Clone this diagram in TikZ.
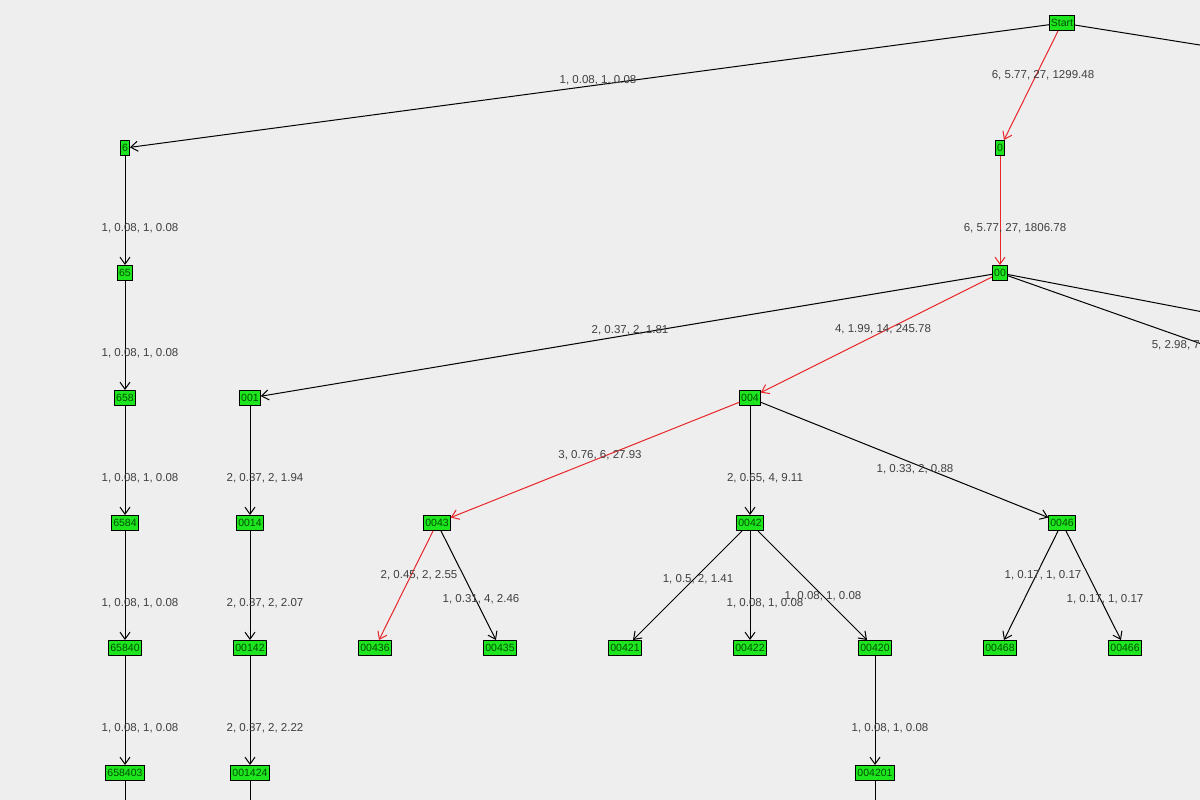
\documentclass[tikz,border=0pt]{standalone}
\usepackage{fontspec}
\setmainfont{Liberation Sans}
\usetikzlibrary{arrows.meta}
\definecolor{nodegreen}{HTML}{1EE61E}
\definecolor{pathred}{HTML}{E8262A}
\definecolor{bggray}{HTML}{EEEEEE}

\begin{document}
\begin{tikzpicture}[x=1pt,y=-1pt,line width=1pt,
    state/.style={draw=black,fill=nodegreen,inner sep=1.5pt,minimum height=15pt,font=\fontsize{10.5}{11}\selectfont,text=black!70!green},
    lbl/.style={font=\fontsize{11.5}{12}\selectfont,text=black!75},
    tr/.style={-{Straight Barb[length=7pt,width=10pt]},black},
    best/.style={-{Straight Barb[length=7pt,width=10pt]},pathred}]
    \fill[bggray] (0,0) rectangle (1200,800);
    \useasboundingbox (0,0) rectangle (1200,800);
    \clip (0,0) rectangle (1200,800);

    \node[state] (Start) at (1062,23) {Start};
    \node[state] (0) at (1000,148) {0};
    \node[state] (6) at (125,148) {6};
    \node[state] (65) at (125,273) {65};
    \node[state] (658) at (125,398) {658};
    \node[state] (6584) at (125,523) {6584};
    \node[state] (65840) at (125,648) {65840};
    \node[state] (658403) at (125,773) {658403};
    \node[state] (00) at (1000,273) {00};
    \node[state] (001) at (250,398) {001};
    \node[state] (0014) at (250,523) {0014};
    \node[state] (00142) at (250,648) {00142};
    \node[state] (001424) at (250,773) {001424};
    \node[state] (004) at (750,398) {004};
    \node[state] (0043) at (437,523) {0043};
    \node[state] (0042) at (750,523) {0042};
    \node[state] (0046) at (1062,523) {0046};
    \node[state] (00436) at (375,648) {00436};
    \node[state] (00435) at (500,648) {00435};
    \node[state] (00421) at (625,648) {00421};
    \node[state] (00422) at (750,648) {00422};
    \node[state] (00420) at (875,648) {00420};
    \node[state] (00468) at (1000,648) {00468};
    \node[state] (00466) at (1125,648) {00466};
    \node[state] (004201) at (875,773) {004201};
    \coordinate (StartR) at (1250,53);
    \coordinate (00R) at (1250,321);
    \coordinate (00RR) at (1250,361);
    \coordinate (6B) at (125,830);
    \coordinate (0B) at (250,830);
    \coordinate (4B) at (875,830);

    \draw[tr] (Start) -- (6);
    \draw[black] (Start) -- (StartR);
    \draw[best] (Start) -- (0);
    \draw[best] (0) -- (00);
    \draw[tr] (6) -- (65);
    \draw[tr] (65) -- (658);
    \draw[tr] (658) -- (6584);
    \draw[tr] (6584) -- (65840);
    \draw[tr] (65840) -- (658403);
    \draw[black] (658403) -- (6B);
    \draw[tr] (00) -- (001);
    \draw[best] (00) -- (004);
    \draw[black] (00) -- (00R);
    \draw[black] (00) -- (00RR);
    \draw[tr] (001) -- (0014);
    \draw[tr] (0014) -- (00142);
    \draw[tr] (00142) -- (001424);
    \draw[black] (001424) -- (0B);
    \draw[best] (004) -- (0043);
    \draw[tr] (004) -- (0042);
    \draw[tr] (004) -- (0046);
    \draw[best] (0043) -- (00436);
    \draw[tr] (0043) -- (00435);
    \draw[tr] (0042) -- (00421);
    \draw[tr] (0042) -- (00422);
    \draw[tr] (0042) -- (00420);
    \draw[tr] (0046) -- (00468);
    \draw[tr] (0046) -- (00466);
    \draw[tr] (00420) -- (004201);
    \draw[black] (004201) -- (4B);

    \node[lbl] (l1) at (598,80) {1, 0.08, 1, 0.08};
    \node[lbl] (l2) at (1043,75) {6, 5.77, 27, 1299.48};
    \node[lbl] (l3) at (140,228) {1, 0.08, 1, 0.08};
    \node[lbl] (l4) at (140,353) {1, 0.08, 1, 0.08};
    \node[lbl] (l5) at (140,478) {1, 0.08, 1, 0.08};
    \node[lbl] (l6) at (140,603) {1, 0.08, 1, 0.08};
    \node[lbl] (l7) at (140,728) {1, 0.08, 1, 0.08};
    \node[lbl] (l8) at (1015,228) {6, 5.77, 27, 1806.78};
    \node[lbl] (l9) at (630,330) {2, 0.37, 2, 1.81};
    \node[lbl] (l10) at (883,329) {4, 1.99, 14, 245.78};
    \node[lbl,anchor=west] (l11) at (1148,345) {5, 2.98, 7};
    \node[lbl] (l12) at (265,478) {2, 0.37, 2, 1.94};
    \node[lbl] (l13) at (265,603) {2, 0.37, 2, 2.07};
    \node[lbl] (l14) at (265,728) {2, 0.37, 2, 2.22};
    \node[lbl] (l15) at (600,455) {3, 0.76, 6, 27.93};
    \node[lbl] (l16) at (765,478) {2, 0.65, 4, 9.11};
    \node[lbl] (l17) at (915,469) {1, 0.33, 2, 0.88};
    \node[lbl] (l18) at (419,575) {2, 0.45, 2, 2.55};
    \node[lbl] (l19) at (481,599) {1, 0.31, 4, 2.46};
    \node[lbl] (l20) at (698,579) {1, 0.5, 2, 1.41};
    \node[lbl] (l21) at (765,603) {1, 0.08, 1, 0.08};
    \node[lbl] (l22) at (823,596) {1, 0.08, 1, 0.08};
    \node[lbl] (l23) at (1043,575) {1, 0.17, 1, 0.17};
    \node[lbl] (l24) at (1105,599) {1, 0.17, 1, 0.17};
    \node[lbl] (l25) at (890,728) {1, 0.08, 1, 0.08};
\end{tikzpicture}
\end{document}
